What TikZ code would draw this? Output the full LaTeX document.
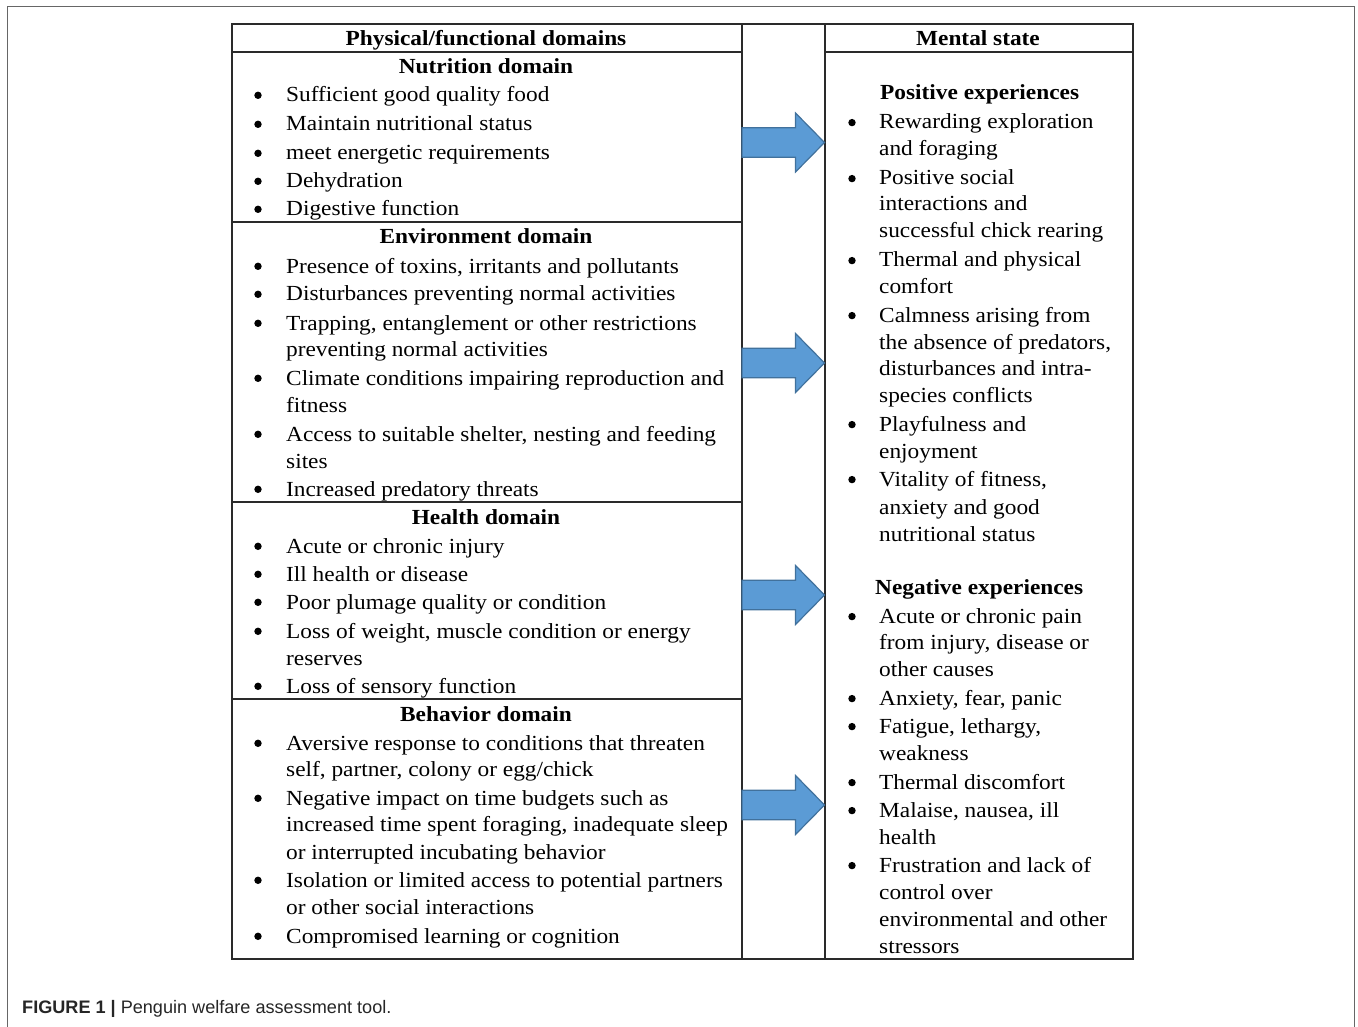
\documentclass[tikz,border=0pt]{standalone}
\usepackage{fontspec}
\setmainfont{Liberation Serif}[FakeStretch=1.085]
\newfontfamily\capfont{Liberation Sans}
\definecolor{arrfill}{HTML}{5B9BD5}
\definecolor{arrdraw}{HTML}{41719C}
\definecolor{rule}{HTML}{2A2A2A}
\tikzset{
  tbl/.style={draw=rule, line width=1.7pt, inner sep=0pt, anchor=north west},
  frame/.style={draw=black!60, line width=1pt},
  txt/.style={anchor=base west, inner sep=0pt, font=\fontsize{21.5}{25}\selectfont},
  hd/.style={anchor=base, inner sep=0pt, font=\fontsize{21.5}{25}\selectfont\bfseries},
  hdl/.style={anchor=base west, inner sep=0pt, font=\fontsize{21.5}{25}\selectfont\bfseries},
  bul/.style={circle, fill=black, inner sep=0pt, minimum size=7.4pt},
  blockarrow/.style={fill=arrfill, draw=arrdraw, line width=1.2pt, line join=miter},
}
\begin{document}
\begin{tikzpicture}[x=1pt,y=-1pt]
\useasboundingbox (0,0) rectangle (1358,1027);
% outer frame (open at bottom)
\draw[frame] (7.5,1027) -- (7.5,6.5) -- (1354.5,6.5) -- (1354.5,1027);
% table cells as nodes
\node[tbl, minimum width=510pt, minimum height=28pt] (lhead) at (231,23) {};
\node[tbl, minimum width=510pt, minimum height=170pt] (nut) at (231,51) {};
\node[tbl, minimum width=510pt, minimum height=280pt] (env) at (231,221) {};
\node[tbl, minimum width=510pt, minimum height=197pt] (hea) at (231,501) {};
\node[tbl, minimum width=510pt, minimum height=260pt] (beh) at (231,698) {};
\node[tbl, minimum width=83pt, minimum height=935pt] (mid) at (741,23) {};
\node[tbl, minimum width=308pt, minimum height=28pt] (rhead) at (824,23) {};
\node[tbl, minimum width=308pt, minimum height=907pt] (ment) at (824,51) {};
% headers
\node[hd] (h1) at (486,46) {Physical/functional domains};
\node[hd] (h2) at (978,46) {Mental state};
\node[hd] (d1) at (486,74) {Nutrition domain};
\node[hd] (d2) at (486,244) {Environment domain};
\node[hd] (d3) at (486,524) {Health domain};
\node[hd] (d4) at (486,721) {Behavior domain};
\node[hdl] (p1) at (880,100) {Positive experiences};
\node[hdl] (p2) at (875,594) {Negative experiences};
% left bullets
\foreach \y [count=\k] in {94,123,152,180,208,265,293,322,377,433,488,545,573,601,630,685,742,797,879,935}
  \node[bul] (lb\k) at (258,\y+1.3) {};
% right bullets
\foreach \y [count=\k] in {121,177,259,314,423,478,615,697,725,781,809,864}
  \node[bul] (rb\k) at (852,\y+1.6) {};
% left text lines
\foreach \y/\t [count=\k] in {
  94/{Sufficient good quality food},
  123/{Maintain nutritional status},
  152/{meet energetic requirements},
  180/{Dehydration},
  208/{Digestive function},
  265/{Presence of toxins, irritants and pollutants},
  293/{Disturbances preventing normal activities},
  322/{Trapping, entanglement or other restrictions},
  348/{preventing normal activities},
  377/{Climate conditions impairing reproduction and},
  404/{fitness},
  433/{Access to suitable shelter, nesting and feeding},
  460/{sites},
  488/{Increased predatory threats},
  545/{Acute or chronic injury},
  573/{Ill health or disease},
  601/{Poor plumage quality or condition},
  630/{Loss of weight, muscle condition or energy},
  657/{reserves},
  685/{Loss of sensory function},
  742/{Aversive response to conditions that threaten},
  768/{self, partner, colony or egg/chick},
  797/{Negative impact on time budgets such as},
  823/{increased time spent foraging, inadequate sleep},
  851/{or interrupted incubating behavior},
  879/{Isolation or limited access to potential partners},
  906/{or other social interactions},
  935/{Compromised learning or cognition}}
  \node[txt] (lt\k) at (286,\y+8) {\t};
% right text lines
\foreach \y/\t [count=\k] in {
  121/{Rewarding exploration},
  148/{and foraging},
  177/{Positive social},
  203/{interactions and},
  230/{successful chick rearing},
  259/{Thermal and physical},
  286/{comfort},
  314/{Calmness arising from},
  341/{the absence of predators,},
  367/{disturbances and intra-},
  394/{species conflicts},
  423/{Playfulness and},
  450/{enjoyment},
  478/{Vitality of fitness,},
  506/{anxiety and good},
  533/{nutritional status},
  615/{Acute or chronic pain},
  641/{from injury, disease or},
  668/{other causes},
  697/{Anxiety, fear, panic},
  725/{Fatigue, lethargy,},
  752/{weakness},
  781/{Thermal discomfort},
  809/{Malaise, nausea, ill},
  836/{health},
  864/{Frustration and lack of},
  891/{control over},
  918/{environmental and other},
  945/{stressors}}
  \node[txt] (rt\k) at (879,\y+8) {\t};
% block arrows: tip coordinates
\foreach \y [count=\k] in {142.5,363,595,805} {
  \coordinate (tip\k) at (824.5,\y);
  \draw[blockarrow] (tip\k) -- ++(-29,-29.5) -- ++(0,14.7) -- ++(-53.5,0) -- ++(0,29.6)
    -- ++(53.5,0) -- ++(0,14.7) -- cycle;
}
% caption
\node[anchor=base west, inner sep=0pt, font=\capfont\fontsize{18.1}{20}\selectfont, text=black!85] (cap) at (22,1013.5)
  {\textbf{FIGURE 1 |} Penguin welfare assessment tool.};
\end{tikzpicture}
\end{document}
